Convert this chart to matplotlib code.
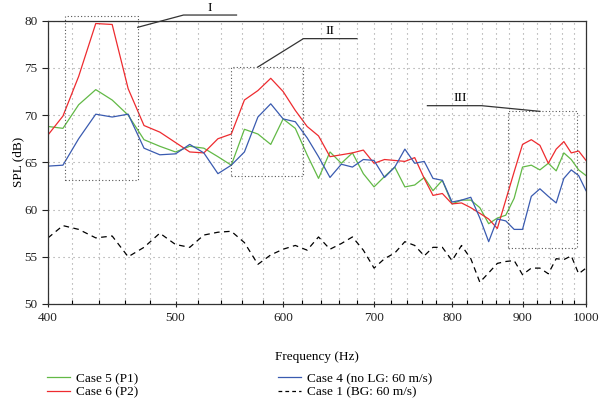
import numpy as np
import matplotlib
matplotlib.use("Agg")
import matplotlib.pyplot as plt
from matplotlib.ticker import FixedLocator, NullFormatter
from matplotlib.lines import Line2D

plt.rcParams["font.family"] = ["Liberation Serif", "DejaVu Serif"]
plt.rcParams["font.size"] = 9

# ── data (SPL in dB) ───────────────────────────────────────────────────────
freq = [400.0, 412.5, 425.0, 437.5, 450.0, 462.5, 475.0, 487.5,
        500.0, 512.5, 525.0, 537.5, 550.0, 562.5, 575.0, 587.5,
        600.0, 612.5, 625.0, 637.5, 650.0, 662.5, 675.0, 687.5,
        700.0, 712.5, 725.0, 737.5, 750.0, 762.5, 775.0, 787.5,
        800.0, 812.5, 825.0, 837.5, 850.0, 862.5, 875.0, 887.5,
        900.0, 912.5, 925.0, 937.5, 950.0, 962.5, 975.0, 987.5, 1000.0]

case5_p1 = [68.8, 68.6, 71.1, 72.7, 71.6, 70.0, 67.4, 66.7, 66.1, 66.7,
            66.5, 65.6, 64.7, 68.5, 68.0, 66.9, 69.6, 68.6, 65.8, 63.3,
            66.1, 64.9, 66.0, 63.8, 62.4, 63.5, 64.5, 62.4, 62.6, 63.4,
            62.0, 63.1, 60.6, 61.0, 61.0, 60.2, 58.5, 59.1, 59.4, 61.2,
            64.5, 64.7, 64.2, 64.9, 64.1, 66.0, 65.3, 64.2, 63.6]

case6_p2 = [67.9, 69.9, 74.1, 79.7, 79.6, 72.8, 68.9, 68.2, 67.1, 66.1,
            66.0, 67.5, 68.0, 71.6, 72.6, 73.9, 72.5, 70.5, 68.8, 67.8,
            65.6, 65.8, 66.0, 66.3, 64.9, 65.3, 65.2, 65.1, 65.5, 63.3,
            61.5, 61.7, 60.6, 60.7, 60.2, 59.6, 59.0, 58.0, 61.0, 64.0,
            66.9, 67.4, 66.8, 64.9, 66.4, 67.2, 66.0, 66.2, 65.2]

case4_nolg = [64.6, 64.7, 67.5, 70.1, 69.8, 70.1, 66.5, 65.8, 65.9, 66.9,
              66.0, 63.8, 64.7, 66.1, 69.8, 71.2, 69.6, 69.3, 67.6, 65.6,
              63.4, 64.8, 64.5, 65.3, 65.2, 63.4, 64.5, 66.4, 64.9, 65.1,
              63.3, 63.1, 60.8, 61.0, 61.3, 59.1, 56.6, 59.0, 58.8, 57.9,
              57.9, 61.4, 62.2, 61.4, 60.7, 63.3, 64.2, 63.6, 62.0]

case1_bg = [57.0, 58.3, 57.9, 57.0, 57.2, 55.0, 56.0, 57.5, 56.3, 56.0,
            57.3, 57.6, 57.7, 56.5, 54.2, 55.2, 55.8, 56.2, 55.7, 57.1,
            55.8, 56.4, 57.1, 55.7, 53.8, 54.8, 55.4, 56.6, 56.2, 55.1,
            56.0, 56.0, 54.6, 56.2, 54.8, 52.3, 53.3, 54.3, 54.5, 54.6,
            53.1, 53.8, 53.8, 53.2, 54.8, 54.7, 55.1, 53.2, 53.8]

major_ticks = [400, 500, 600, 700, 800, 900, 1000]
minor_ticks = [f for f in range(420, 1000, 20) if f % 100 != 0]

# the source axis is close to log but not exactly: relative tick positions
# (0 = 400 Hz, 1 = 1000 Hz) as they sit in the original figure
scale_f = [400, 420, 440, 460, 480, 500, 520, 540, 560, 580, 600,
           620, 640, 660, 680, 700, 720, 740, 760, 780, 800,
           820, 840, 860, 880, 900, 920, 940, 960, 980, 1000]
scale_pos = [0.0, 0.044, 0.095, 0.143, 0.190, 0.237, 0.279, 0.321, 0.360, 0.400, 0.437,
             0.473, 0.507, 0.541, 0.574, 0.606, 0.637, 0.667, 0.696, 0.722, 0.751,
             0.779, 0.806, 0.832, 0.857, 0.882, 0.908, 0.933, 0.956, 0.978, 1.0]

# highlighted regions: (f_lo, f_hi, spl_lo, spl_hi)
regions = {"I": (414, 470, 63.1, 80.5),
           "II": (550, 621, 63.6, 75.1),
           "III": (879, 984, 55.9, 70.4)}
# leader lines (freq list, spl list) and label anchors
leaders = {"I": ([470, 507, 555], [79.3, 80.6, 80.6], (530, 80.7)),
           "II": ([575, 621, 680], [75.1, 78.1, 78.1], (650, 78.3)),
           "III": ([767, 840, 925], [71.0, 71.0, 70.4], (811, 71.2))}

GREEN = "#62b946"
RED = "#ee2b2f"
BLUE = "#3a5bb0"

_lf = np.log10(scale_f)
_p = np.array(scale_pos)


def _fwd(x):
    lx = np.log10(np.clip(np.asarray(x, dtype=float), 1e-6, None))
    y = np.interp(lx, _lf, _p)
    lo = lx < _lf[0]
    hi = lx > _lf[-1]
    y = np.where(lo, _p[0] + (lx - _lf[0]) * (_p[1] - _p[0]) / (_lf[1] - _lf[0]), y)
    y = np.where(hi, _p[-1] + (lx - _lf[-1]) * (_p[-1] - _p[-2]) / (_lf[-1] - _lf[-2]), y)
    return y


def _inv(y):
    y = np.asarray(y, dtype=float)
    lx = np.interp(y, _p, _lf)
    lx = np.where(y < _p[0], _lf[0] + (y - _p[0]) * (_lf[1] - _lf[0]) / (_p[1] - _p[0]), lx)
    lx = np.where(y > _p[-1], _lf[-1] + (y - _p[-1]) * (_lf[-1] - _lf[-2]) / (_p[-1] - _p[-2]), lx)
    return 10 ** lx


fig = plt.figure(figsize=(6, 3.98), dpi=100)
ax = fig.add_axes([0.08, 0.2362, 0.8967, 0.7118])

ax.plot(freq, case5_p1, color=GREEN, lw=0.9)
ax.plot(freq, case6_p2, color=RED, lw=0.9)
ax.plot(freq, case4_nolg, color=BLUE, lw=0.9)
ax.plot(freq, case1_bg, color="black", lw=0.9, ls=(0, (4.5, 3.5)))

ax.set_xscale("function", functions=(_fwd, _inv))
ax.set_xlim(400, 1000)
ax.set_ylim(50, 80)
ax.xaxis.set_major_locator(FixedLocator(major_ticks))
ax.xaxis.set_minor_locator(FixedLocator(minor_ticks))
ax.set_xticklabels([str(t) for t in major_ticks])
ax.xaxis.set_minor_formatter(NullFormatter())
ax.set_yticks([50, 55, 60, 65, 70, 75, 80])

ax.tick_params(axis="x", which="major", direction="inout", length=5, width=0.8)
ax.tick_params(axis="x", which="minor", direction="in", length=3, width=0.8)
ax.tick_params(axis="y", which="major", direction="out", length=4, width=0.8)
ax.tick_params(labelsize=9.5, colors="#222222")

ax.grid(which="both", axis="x", color="#9a9a9a", lw=0.8, ls=(0, (1, 3.5)))
ax.grid(which="major", axis="y", color="#9a9a9a", lw=0.8, ls=(0, (1, 3.5)))
for s in ax.spines.values():
    s.set_color("#333333")
    s.set_linewidth(0.9)

ax.set_xlabel("Frequency (Hz)", fontsize=9.5, labelpad=19)
ax.set_ylabel("SPL (dB)", fontsize=9.5, labelpad=0)

# dotted boxes and their leaders
for name, (f0, f1, s0, s1) in regions.items():
    ax.plot([f0, f1, f1, f0, f0], [s0, s0, s1, s1, s0], color="#555555",
            lw=0.8, ls=(0, (1, 2)), clip_on=False)
    xs, ys, (tx, ty) = leaders[name]
    ax.plot(xs, ys, color="#333333", lw=0.9, clip_on=False)
    ax.text(tx, ty, name, ha="center", va="bottom", fontsize=9.5)

# legend in two separate columns
h_green = Line2D([], [], color=GREEN, lw=0.9)
h_red = Line2D([], [], color=RED, lw=0.9)
h_blue = Line2D([], [], color=BLUE, lw=0.9)
h_black = Line2D([], [], color="black", lw=0.9, ls=(0, (3, 2.5)))

leg_kw = dict(loc="upper left", frameon=False, fontsize=9.5, handlelength=1.7,
              handletextpad=0.45, labelspacing=0.1, borderaxespad=0)
leg1 = fig.legend([h_green, h_red], ["Case 5 (P1)", "Case 6 (P2)"],
                  bbox_to_anchor=(0.07, 0.077), **leg_kw)
leg2 = fig.legend([h_blue, h_black], ["Case 4 (no LG: 60 m/s)", "Case 1 (BG: 60 m/s)"],
                  bbox_to_anchor=(0.455, 0.077), **leg_kw)

fig.savefig("out.png", dpi=100)
